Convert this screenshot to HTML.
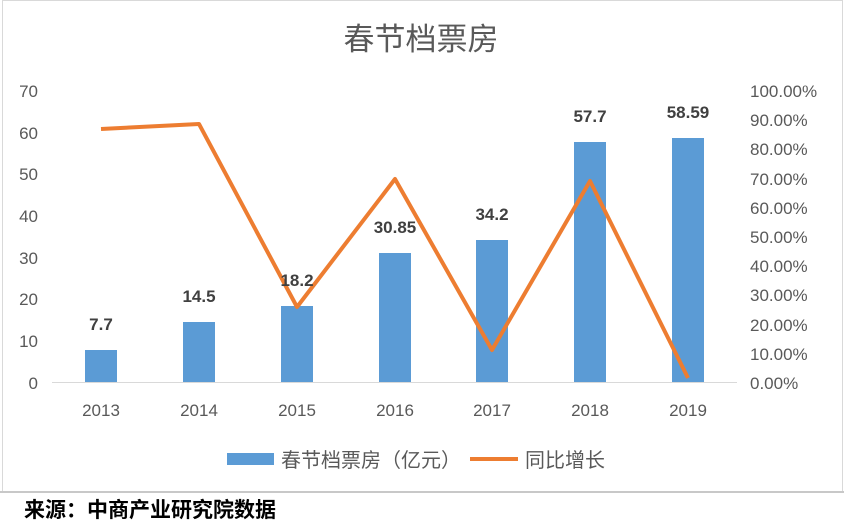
<!DOCTYPE html><html><head><meta charset="utf-8"><style>
body{margin:0;width:844px;height:525px;background:#fff;overflow:hidden;font-family:"Liberation Sans","Noto Sans CJK SC",sans-serif}
</style></head><body>
<svg width="844" height="525" xmlns="http://www.w3.org/2000/svg" font-family="Liberation Sans, Noto Sans CJK SC, sans-serif">
<rect x="2.5" y="0.5" width="840" height="491" fill="#fff" stroke="#d9d9d9"/>
<line x1="0" y1="492" x2="844" y2="492" stroke="#c8c8c8" stroke-width="2"/>
<text x="421" y="50" font-size="31" fill="#595959" text-anchor="middle">春节档票房</text>
<g font-size="17" fill="#595959">
<text x="38" y="97" text-anchor="end">70</text><text x="38" y="139" text-anchor="end">60</text><text x="38" y="180" text-anchor="end">50</text><text x="38" y="222" text-anchor="end">40</text><text x="38" y="264" text-anchor="end">30</text><text x="38" y="305" text-anchor="end">20</text><text x="38" y="347" text-anchor="end">10</text><text x="38" y="389" text-anchor="end">0</text>
<text x="750" y="97">100.00%</text><text x="750" y="126">90.00%</text><text x="750" y="155">80.00%</text><text x="750" y="185">70.00%</text><text x="750" y="214">60.00%</text><text x="750" y="243">50.00%</text><text x="750" y="272">40.00%</text><text x="750" y="301">30.00%</text><text x="750" y="331">20.00%</text><text x="750" y="360">10.00%</text><text x="750" y="389">0.00%</text>
<g text-anchor="middle"><text x="101" y="416">2013</text><text x="199" y="416">2014</text><text x="297" y="416">2015</text><text x="395" y="416">2016</text><text x="492" y="416">2017</text><text x="590" y="416">2018</text><text x="688" y="416">2019</text></g>
</g>
<line x1="52" y1="382.5" x2="737" y2="382.5" stroke="#d9d9d9"/>
<g fill="#5b9bd5">
<rect x="85" y="350" width="32" height="32"/><rect x="183" y="322" width="32" height="60"/><rect x="281" y="306" width="32" height="76"/><rect x="379" y="253" width="32" height="129"/><rect x="476" y="240" width="32" height="142"/><rect x="574" y="142" width="32" height="240"/><rect x="672" y="138" width="32" height="244"/>
</g>
<polyline points="101,129 199,124 297,307 395,179 492,350 590,181 688,378" fill="none" stroke="#ed7d31" stroke-width="4" stroke-linejoin="round"/>
<g font-size="17" font-weight="bold" fill="#404040" text-anchor="middle">
<text x="101" y="330">7.7</text><text x="199" y="302">14.5</text><text x="297" y="286">18.2</text><text x="395" y="233">30.85</text><text x="492" y="220">34.2</text><text x="590" y="122">57.7</text><text x="688" y="118">58.59</text>
</g>
<rect x="227" y="453" width="47" height="12" fill="#5b9bd5"/>
<text x="281" y="467" font-size="20" fill="#595959">春节档票房（亿元）</text>
<line x1="470" y1="459" x2="518" y2="459" stroke="#ed7d31" stroke-width="4"/>
<text x="525" y="467" font-size="20" fill="#595959">同比增长</text>
<text x="24" y="517" font-size="21" font-weight="bold" fill="#000">来源：中商产业研究院数据</text>
</svg>
</body></html>
